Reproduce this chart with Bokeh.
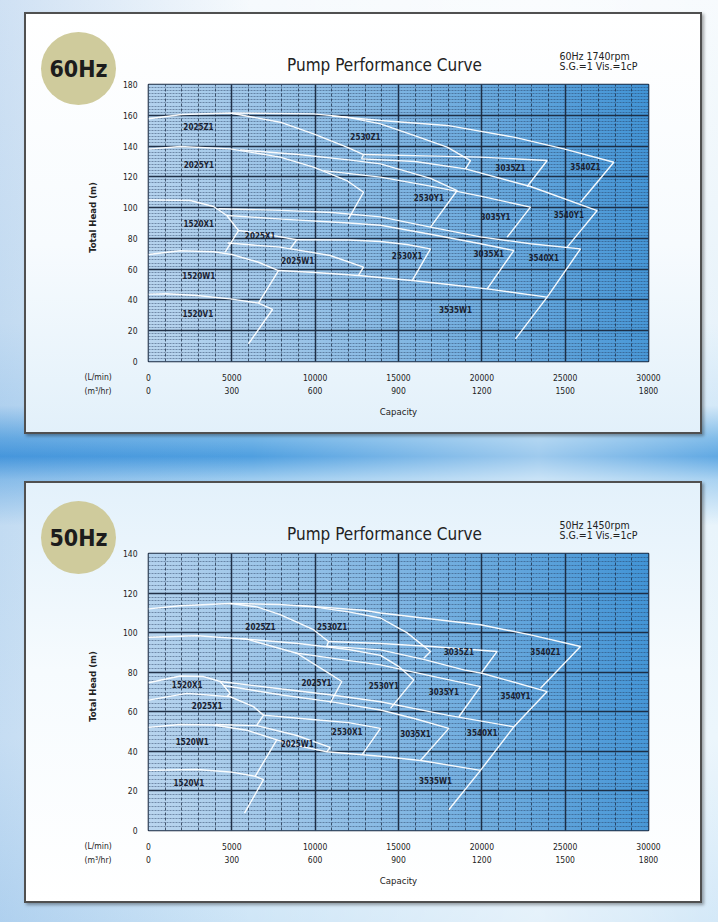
import numpy as np
from bokeh.plotting import figure
from bokeh.models import ColumnDataSource, LinearAxis, Range1d, SingleIntervalTicker, Grid
from bokeh.layouts import column, row
from bokeh.embed import file_html
from bokeh.resources import INLINE
from bokeh.core.properties import value

# ---------------------------------------------------------------- data
Q_MAX = 30000          # L/min
M3_MAX = 1800          # m3/hr
Y_MAX_60 = 180
Y_MAX_50 = 140
MODELS = ["1520V1", "1520W1", "1520X1", "2025W1", "2025X1", "2025Y1", "2025Z1",
          "2530X1", "2530Y1", "2530Z1", "3035X1", "3035Y1", "3035Z1",
          "3535W1", "3540X1", "3540Y1", "3540Z1"]

# 60 Hz, 1740 rpm : (capacity L/min, head m) outline of each model
C60_1520V1 = ([0, 1100, 2900, 4900, 6600, 7440, 6000], [43.8, 44.0, 42.9, 40.7, 37.9, 33.8, 11.5])
C60_1520W1 = ([0, 1900, 3900, 5000, 6600, 7800, 6600], [69.5, 72.0, 71.3, 69.5, 64.5, 59.1, 37.9])
C60_1520X1 = ([0, 2500, 3900, 4700, 5400, 4600], [105.0, 104.6, 100.7, 94.9, 85.1, 71.0])
C60_2025W1 = ([4750, 7900, 10900, 12900, 12600], [77.0, 74.3, 68.9, 61.3, 55.9])
C60_2025X1 = ([5400, 7000, 8900, 8500], [85.1, 82.8, 79.1, 73.2])
C60_2025Y1 = ([0, 1900, 4900, 7900, 9900, 11900, 12900, 12000], [138.0, 139.7, 138.2, 132.8, 126.3, 117.6, 110.0, 92.7])
C60_2025Z1 = ([0, 2000, 4900, 7900, 9900, 11900, 12900, 12780], [157.7, 160.5, 161.5, 155.5, 147.9, 139.3, 134.5, 131.7])
C60_2530X1 = ([8900, 12000, 13920, 15500, 16920, 15820], [79.1, 79.0, 78.0, 76.0, 73.2, 52.6])
C60_2530Y1 = ([5500, 9000, 12000, 13920, 16920, 18520, 16920], [137.5, 134.5, 131.0, 128.4, 119.0, 111.1, 87.3])
C60_2530Z1 = ([5000, 9900, 11900, 13920, 15920, 17920, 19320, 19020], [161.5, 160.9, 158.8, 154.4, 146.9, 139.3, 130.6, 125.2])
C60_3035X1 = ([4700, 8000, 12000, 13920, 17000, 19920, 21920, 20320], [94.9, 92.5, 90.0, 88.5, 82.5, 76.5, 72.1, 47.2])
C60_3035Y1 = ([10500, 13920, 16920, 19920, 22920, 21520], [124.0, 119.8, 114.0, 107.5, 100.3, 80.8])
C60_3035Z1 = ([12920, 15920, 19920, 23920, 22720], [134.5, 133.8, 132.8, 130.6, 113.7])
C60_3535W1 = ([7800, 10000, 12600, 15820, 18000, 20320, 23920, 22020], [59.1, 57.8, 55.9, 52.6, 50.0, 47.2, 41.8, 14.7])
C60_3540X1 = ([4200, 8000, 11000, 13920, 16920, 19920, 22920, 25920, 23920], [99.3, 98.2, 96.8, 94.0, 87.3, 81.0, 76.5, 73.2, 41.8])
C60_3540Y1 = ([12780, 16000, 19020, 22920, 26920, 25120], [131.7, 130.0, 125.2, 113.7, 98.1, 74.3])
C60_3540Z1 = ([11000, 13920, 17920, 21920, 24920, 27920, 25920], [159.5, 156.6, 153.4, 145.8, 138.2, 129.5, 103.5])
LABEL60_Q = [2960, 3020, 3020, 8960, 6700, 3020, 3000, 15520, 16820, 13020, 20420, 20820, 21720, 18420, 23720, 25220, 26220]
LABEL60_H = [30.5, 55.4, 89.0, 65.0, 81.5, 127.4, 152.0, 68.4, 105.7, 145.8, 69.5, 93.8, 125.2, 33.1, 66.7, 94.9, 125.8]

# 50 Hz, 1450 rpm
C50_1520V1 = ([0, 2900, 4900, 6400, 6900, 5760], [30.4, 30.8, 29.6, 27.4, 25.7, 8.8])
C50_1520W1 = ([0, 1900, 3900, 5900, 7700, 6400], [52.1, 53.6, 53.3, 50.7, 45.8, 27.4])
C50_1520X1 = ([0, 1900, 3300, 4300, 4900, 4700], [74.7, 78.1, 77.8, 75.3, 69.3, 67.6])
C50_2025W1 = ([4000, 6500, 8900, 10900, 10700], [53.6, 53.0, 48.0, 42.0, 39.8])
C50_2025X1 = ([0, 2300, 4900, 6300, 6900, 6500], [65.9, 69.3, 67.6, 62.6, 58.3, 53.3])
C50_2025Y1 = ([0, 2900, 5900, 8900, 11000, 11600, 10900], [97.7, 98.4, 96.7, 89.6, 78.5, 75.3, 64.3])
C50_2025Z1 = ([0, 1900, 4900, 6500, 7900, 9900, 10800, 10700], [112.0, 113.6, 114.7, 113.0, 109.1, 101.5, 95.5, 93.2])
C50_2530X1 = ([6900, 10000, 12000, 13920, 12820], [58.3, 56.0, 54.5, 51.6, 38.3])
C50_2530Y1 = ([5500, 9000, 12000, 13920, 15000, 15920, 14520], [97.0, 94.5, 91.5, 88.5, 83.0, 76.1, 61.7])
C50_2530Z1 = ([4900, 7900, 9900, 12000, 13920, 15500, 16920, 16520], [114.7, 114.2, 113.0, 110.5, 107.4, 100.0, 90.5, 87.1])
C50_3035X1 = ([4500, 8000, 11000, 13920, 16000, 18020, 16320], [73.3, 68.5, 65.0, 60.9, 56.5, 51.6, 35.4])
C50_3035Y1 = ([8800, 11500, 13920, 17000, 19920, 18620], [89.8, 86.5, 83.7, 78.0, 72.7, 57.5])
C50_3035Z1 = ([10800, 13920, 17000, 20920, 20000], [95.5, 94.5, 93.0, 90.5, 80.0])
C50_3535W1 = ([7700, 9000, 10700, 12820, 13920, 16320, 19920, 18020], [45.8, 42.8, 39.8, 38.3, 37.5, 35.4, 30.4, 10.5])
C50_3540X1 = ([4300, 8000, 11000, 13920, 17920, 21920, 19920], [75.3, 71.5, 68.5, 65.1, 58.3, 52.4, 30.4])
C50_3540Y1 = ([10700, 13920, 16500, 18920, 20000, 23920, 21920], [93.2, 91.3, 86.5, 81.2, 79.5, 70.2, 52.4])
C50_3540Z1 = ([9000, 12900, 13920, 19920, 22920, 25920, 23520], [113.8, 111.3, 109.9, 104.0, 98.9, 93.0, 71.9])
LABEL50_Q = [2420, 2620, 2320, 8920, 3520, 10080, 6720, 11920, 14120, 11020, 16020, 17720, 18620, 17220, 20020, 22020, 23820]
LABEL50_H = [23.7, 44.3, 73.2, 43.6, 62.6, 74.1, 102.8, 49.4, 72.7, 102.8, 48.7, 69.8, 90.0, 25.0, 49.0, 67.6, 90.0]

CURVES_60 = [C60_1520V1, C60_1520W1, C60_1520X1, C60_2025W1, C60_2025X1, C60_2025Y1, C60_2025Z1,
             C60_2530X1, C60_2530Y1, C60_2530Z1, C60_3035X1, C60_3035Y1, C60_3035Z1,
             C60_3535W1, C60_3540X1, C60_3540Y1, C60_3540Z1]
CURVES_50 = [C50_1520V1, C50_1520W1, C50_1520X1, C50_2025W1, C50_2025X1, C50_2025Y1, C50_2025Z1,
             C50_2530X1, C50_2530Y1, C50_2530Z1, C50_3035X1, C50_3035Y1, C50_3035Z1,
             C50_3535W1, C50_3540X1, C50_3540Y1, C50_3540Z1]

# ---------------------------------------------------------------- style / layout
FONT = "Liberation Sans Narrow, Arial Narrow, DejaVu Sans Condensed, sans-serif"
PANEL_W, PANEL_H = 678, 422
LEFT_W = 92            # left strip (badge, axis titles)
HEAD_H = 64            # header strip above the chart
CHART_W, CHART_H = PANEL_W - LEFT_W, PANEL_H - HEAD_H
CB_L, CB_R, CB_T, CB_B = 32, 54, 8, 73     # chart borders -> frame 500 x 277
GRID_DARK = "#1b2a40"
BADGE = "#cfcb9c"
TXT = "#222222"


def gradient_image():
    nx, ny = 240, 120
    X, Y = np.meshgrid(np.linspace(0, 1, nx), np.linspace(0, 1, ny))
    t = np.clip(0.88 * X ** 1.1 + 0.06 * Y + 0.03, 0, 1)
    c0 = np.array([190, 216, 240], dtype=float)
    c1 = np.array([62, 146, 213], dtype=float)
    rgb = c0[None, None, :] * (1 - t[..., None]) + c1[None, None, :] * t[..., None]
    img = np.empty((ny, nx), dtype=np.uint32)
    view = img.view(dtype=np.uint8).reshape((ny, nx, 4))
    view[..., :3] = rgb.astype(np.uint8)
    view[..., 3] = 255
    return img


def deco_fig(w, h, x0=0, x1=None):
    # x0/x1: the horizontal extent the frame ends up with (a column aligns it with the chart's frame)
    f = figure(width=w, height=h, x_range=Range1d(x0, w if x1 is None else x1), y_range=Range1d(h, 0),
               x_axis_type=None, y_axis_type=None, title=None, min_border=0,
               output_backend="svg", toolbar_location=None, tools="")
    f.border_fill_alpha = 0.0
    f.background_fill_alpha = 0.0
    f.outline_line_color = None
    return f


def put_text(f, x, y, t, size, align="left", baseline="alphabetic", style="normal", color=TXT, angle=0.0):
    f.text(x=[x], y=[y], text=[t], text_font=value(FONT), text_font_size=f"{size}px",
           text_font_style=style, text_color=color, text_align=align, text_baseline=baseline, angle=angle)


def make_chart(y_max, curves, lab_q, lab_h):
    p = figure(width=CHART_W, height=CHART_H, x_range=Range1d(0, Q_MAX), y_range=Range1d(0, y_max),
               x_axis_type=None, y_axis_type=None, title=None,
               output_backend="svg", toolbar_location=None, tools="",
               min_border_left=CB_L, min_border_right=CB_R, min_border_top=CB_T, min_border_bottom=CB_B)
    p.border_fill_alpha = 0.0
    p.background_fill_color = "#8dbbe4"
    p.outline_line_color = GRID_DARK
    p.outline_line_width = 1.6

    p.image_rgba(image=[gradient_image()], x=0, y=0, dw=Q_MAX, dh=y_max, level="image")

    xt = SingleIntervalTicker(interval=5000, num_minor_ticks=5)
    yt = SingleIntervalTicker(interval=20, num_minor_ticks=10)
    p.add_layout(Grid(dimension=0, ticker=xt, grid_line_color=GRID_DARK, grid_line_width=1.5,
                      grid_line_alpha=0.95, minor_grid_line_color=GRID_DARK, minor_grid_line_width=1.0,
                      minor_grid_line_alpha=0.75, minor_grid_line_dash="3 2"))
    p.add_layout(Grid(dimension=1, ticker=yt, grid_line_color=GRID_DARK, grid_line_width=1.5,
                      grid_line_alpha=0.95, minor_grid_line_color="#24385a", minor_grid_line_width=0.8,
                      minor_grid_line_alpha=0.6, minor_grid_line_dash="2 1"))

    ya = LinearAxis(ticker=yt)
    xa1 = LinearAxis(ticker=xt)
    p.extra_x_ranges = {"m3": Range1d(0, M3_MAX)}
    xa2 = LinearAxis(x_range_name="m3", ticker=SingleIntervalTicker(interval=300, num_minor_ticks=0),
                     axis_label="Capacity")
    for ax in (ya, xa1, xa2):
        ax.axis_line_color = None
        ax.major_tick_line_color = None
        ax.minor_tick_line_color = None
        ax.major_tick_out = 0
        ax.major_tick_in = 0
        ax.major_label_text_font = FONT
        ax.major_label_text_font_size = "8.5px"
        ax.major_label_text_color = TXT
        ax.axis_label_text_font = FONT
        ax.axis_label_text_font_size = "9.5px"
        ax.axis_label_text_font_style = "normal"
        ax.axis_label_text_color = TXT
    ya.major_label_standoff = 7
    xa1.major_label_standoff = 8
    xa2.major_label_standoff = 3
    xa2.axis_label_standoff = 9
    p.add_layout(ya, "left")
    p.add_layout(xa1, "below")
    p.add_layout(xa2, "below")

    src = ColumnDataSource(dict(xs=[c[0] for c in curves], ys=[c[1] for c in curves]))
    p.multi_line(xs="xs", ys="ys", source=src, line_color="white", line_width=1.4, line_alpha=0.95)

    lsrc = ColumnDataSource(dict(x=lab_q, y=lab_h, t=MODELS))
    p.text(x="x", y="y", text="t", source=lsrc, text_font=value(FONT), text_font_size="8px",
           text_font_style="bold", text_color="#1a2232", text_align="center", text_baseline="middle")
    return p


def make_panel(hz, rpm, y_max, curves, lab_q, lab_h, box_bg, margin):
    # left strip: badge + axis titles (full panel height)
    left = deco_fig(LEFT_W, PANEL_H)
    left.ellipse(x=[54], y=[56], width=[75], height=[73], fill_color=BADGE, line_color=None)
    put_text(left, 54, 56, hz, 23, align="center", baseline="middle", style="bold", color="#1c1c1c")
    put_text(left, 68, HEAD_H + 141, "Total Head (m)", 9.5, align="center", baseline="middle",
             style="bold", angle=np.pi / 2)
    put_text(left, 60, 364, "(L/min)", 8.5, baseline="middle")
    put_text(left, 60, 378, "(m³/hr)", 8.5, baseline="middle")

    # header strip over the chart (its frame is aligned with the chart frame: x from CB_L to CHART_W-CB_R)
    head = deco_fig(CHART_W, HEAD_H, CB_L, CHART_W - CB_R)
    put_text(head, 360 - LEFT_W, 52, "Pump Performance Curve", 17, align="center")
    put_text(head, 535 - LEFT_W, 43, rpm, 10.5)
    put_text(head, 535 - LEFT_W, 53, "S.G.=1 Vis.=1cP", 10.5)

    chart = make_chart(y_max, curves, lab_q, lab_h)
    return row(left, column(head, chart, spacing=0), spacing=0, margin=margin,
               styles={"background": box_bg,
                       "outline": "2px solid #505050", "outline-offset": "-2px",
                       "box-shadow": "2px 2px 3px rgba(0,0,0,0.35)"})


panel60 = make_panel("60Hz", "60Hz 1740rpm", Y_MAX_60, CURVES_60, LABEL60_Q, LABEL60_H,
                     "linear-gradient(180deg, #ffffff 0%, #f7fbfe 55%, #e2f0fa 100%)", (12, 0, 0, 24))
panel50 = make_panel("50Hz", "50Hz 1450rpm", Y_MAX_50, CURVES_50, LABEL50_Q, LABEL50_H,
                     "linear-gradient(180deg, #e3f1fb 0%, #f6fbfe 45%, #ffffff 100%)", (47, 0, 0, 24))

page = column(panel60, panel50, width=718, height=922, spacing=0,
              styles={"background": "linear-gradient(90deg, rgba(30,110,200,0.18) 0%, "
                                    "rgba(255,255,255,0) 35%, rgba(255,255,255,0.45) 75%, "
                                    "rgba(255,255,255,0.1) 100%), "
                                    "linear-gradient(180deg, #f6fafd 0%, #e6f2fa 35%, #cfe6f7 44%, "
                                    "#74b5e7 47.5%, #4f9fe0 49.5%, #9fcdf0 52%, #e6f3fb 57%, "
                                    "#eaf5fc 80%, #cfe6f7 100%)"})

open("out.html", "w").write(file_html(page, INLINE))
